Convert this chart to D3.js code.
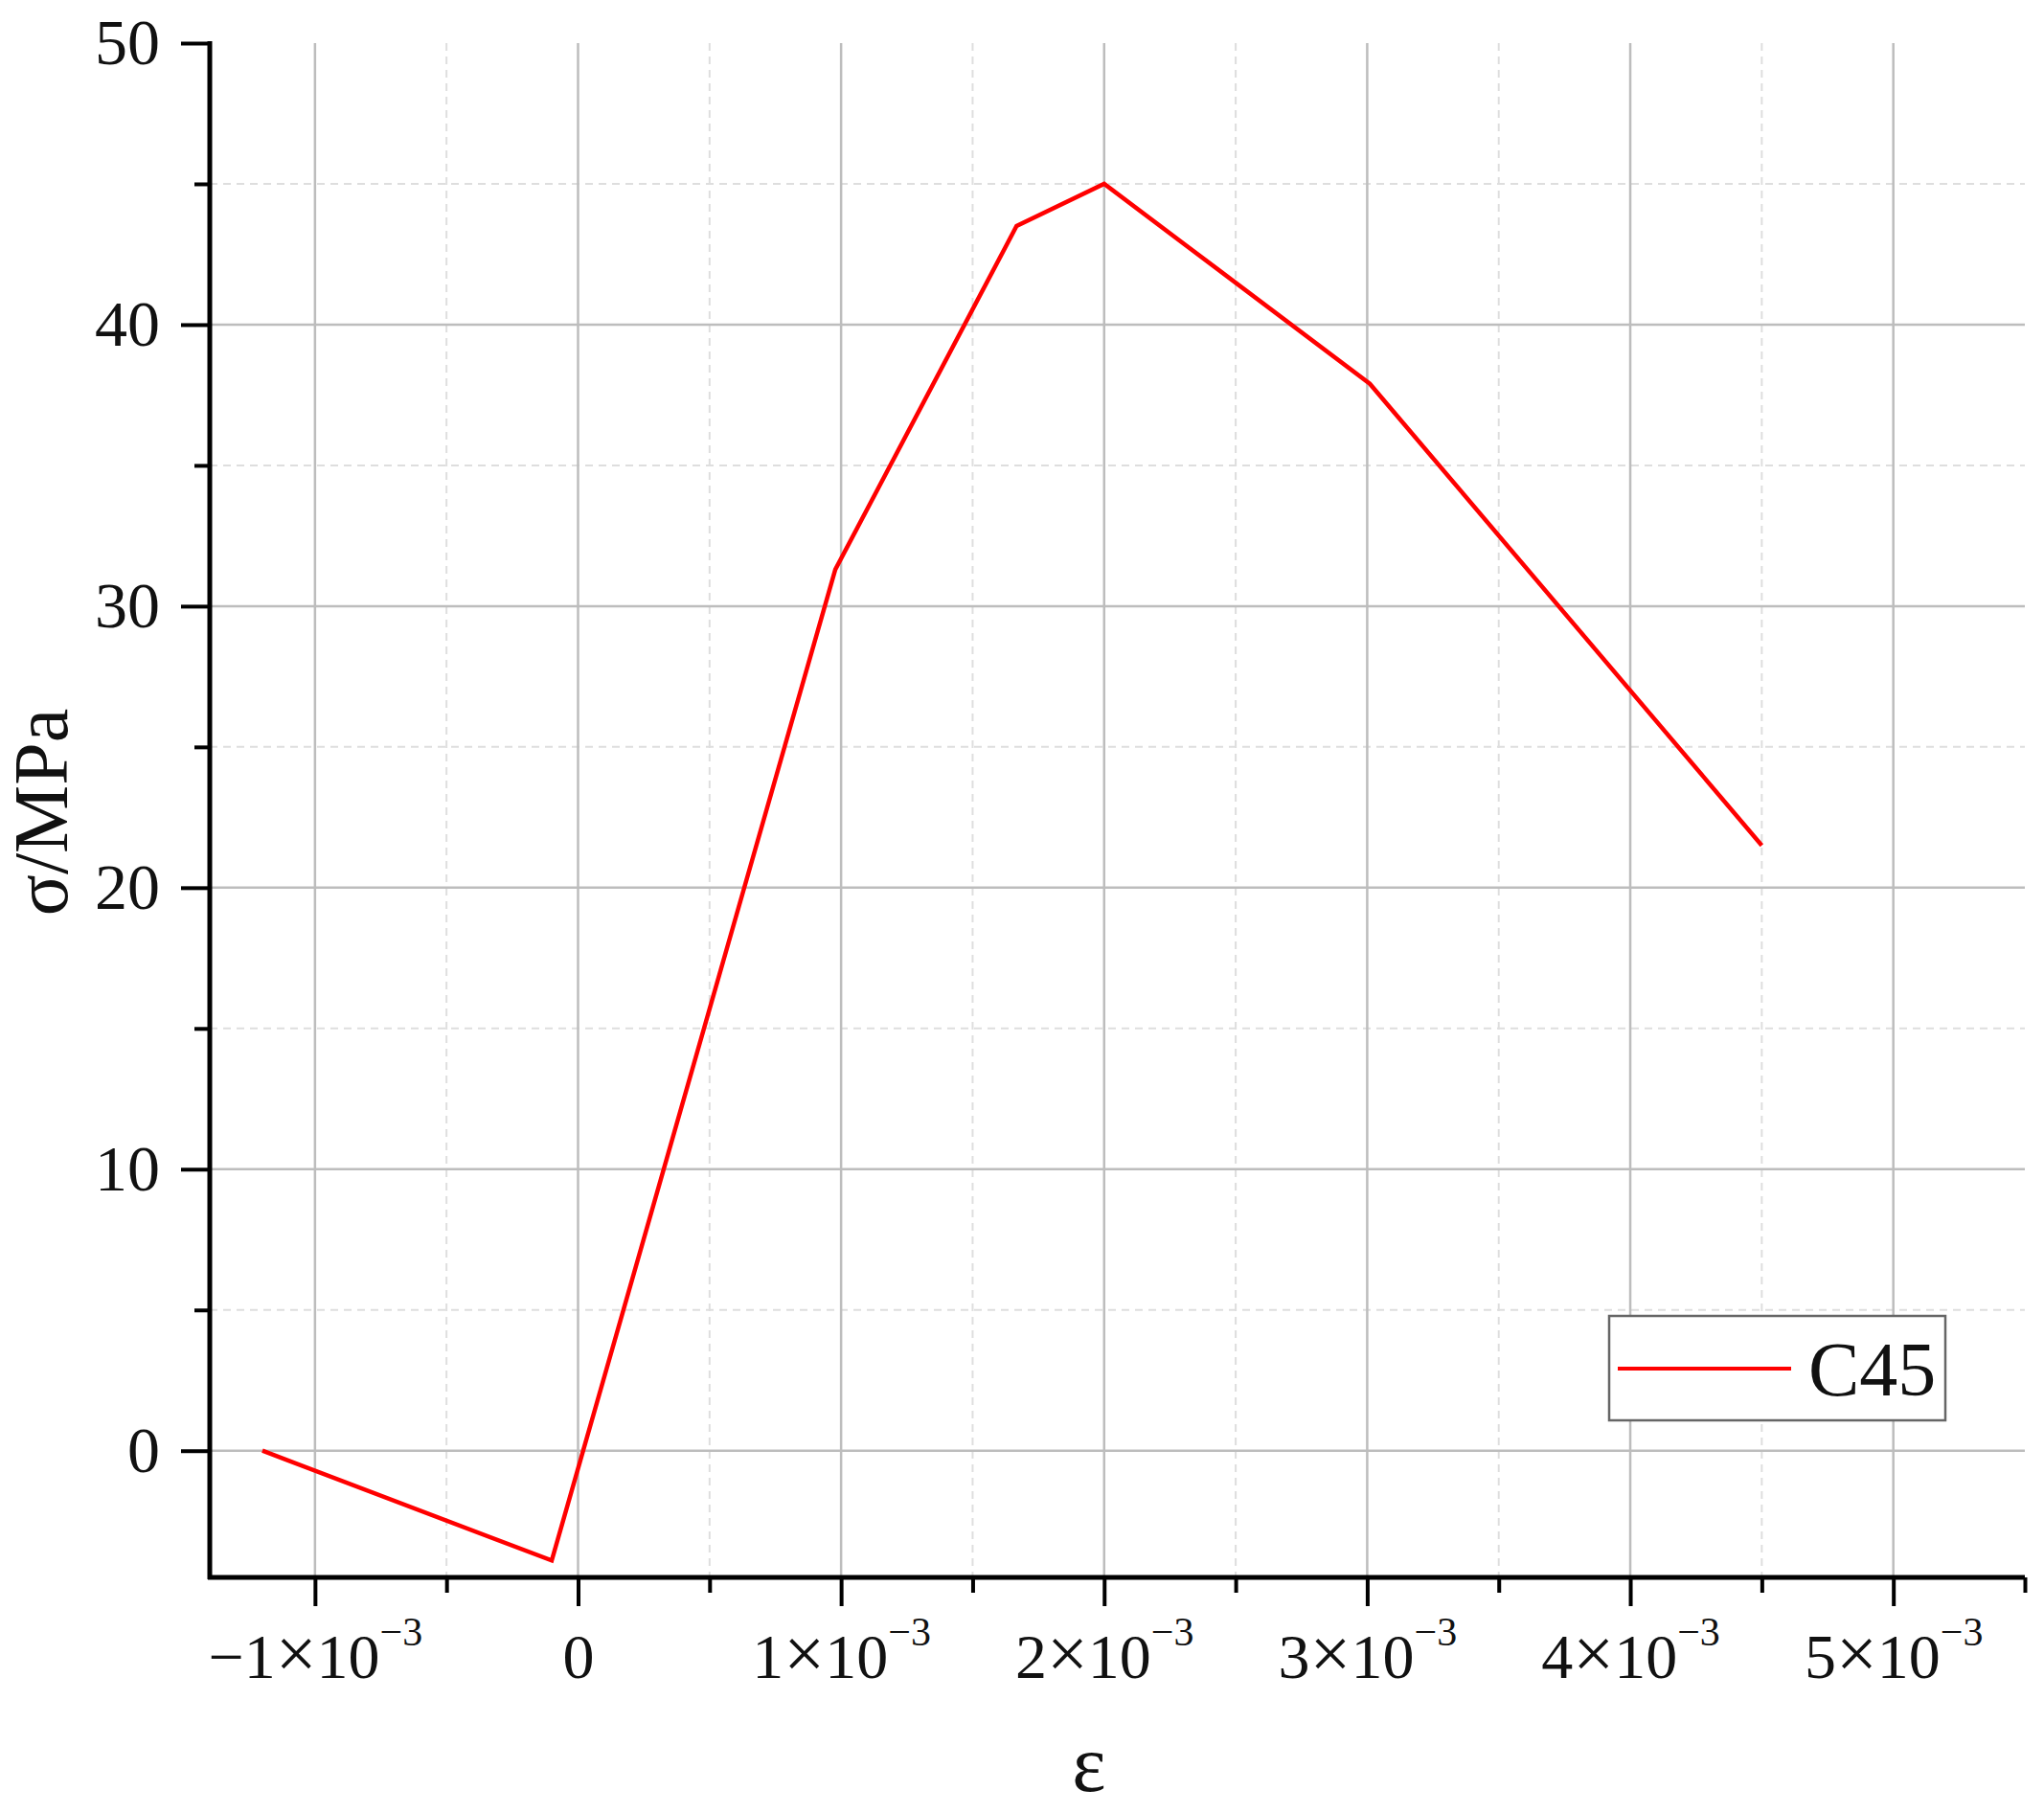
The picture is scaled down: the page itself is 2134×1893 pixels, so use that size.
<!DOCTYPE html>
<html>
<head>
<meta charset="utf-8">
<script src="https://cdn.jsdelivr.net/npm/d3@7"></script>
<style>
  html, body { margin: 0; padding: 0; background: #fff; }
  svg { display: block; }
  text { font-family: "Liberation Serif", "DejaVu Serif", serif; fill: #111; }
</style>
</head>
<body>
<svg id="chart" width="2134" height="1893"></svg>
<script>
// ---- data ----
const seriesName = "C45";
const strain = [-1.2e-3, -0.1e-3, 0.978e-3, 1.667e-3, 2.0e-3, 3.01e-3, 4.5e-3];
const stress = [0, -3.9, 31.3, 43.5, 45.0, 37.9, 21.5];
const xMajorTicks = [-1e-3, 0, 1e-3, 2e-3, 3e-3, 4e-3, 5e-3];
const xMinorTicks = [-0.5e-3, 0.5e-3, 1.5e-3, 2.5e-3, 3.5e-3, 4.5e-3, 5.5e-3];
const yMajorTicks = [0, 10, 20, 30, 40, 50];
const yMinorTicks = [5, 15, 25, 35, 45];
const xLabel = "ε";
const yLabel = "σ/MPa";

// ---- layout ----
const pL = 219, pR = 2114, pT = 45, pB = 1647;
const svg = d3.select("#chart");

const x = d3.scaleLinear().domain([-1.4e-3, 5.5e-3]).range([pL, pR]);
const y = d3.scaleLinear().domain([-4.5, 50]).range([pB, pT]);

// ---- grid ----
const grid = svg.append("g");
grid.selectAll(".vminor").data(xMinorTicks.filter(d => d < 5.5e-3)).join("line")
  .attr("x1", d => x(d)).attr("x2", d => x(d)).attr("y1", pT).attr("y2", pB)
  .attr("stroke", "#dedede").attr("stroke-width", 2).attr("stroke-dasharray", "8,6");
grid.selectAll(".hminor").data(yMinorTicks).join("line")
  .attr("x1", pL).attr("x2", pR).attr("y1", d => y(d)).attr("y2", d => y(d))
  .attr("stroke", "#dedede").attr("stroke-width", 2).attr("stroke-dasharray", "8,6");
grid.selectAll(".vmajor").data(xMajorTicks).join("line")
  .attr("x1", d => x(d)).attr("x2", d => x(d)).attr("y1", pT).attr("y2", pB)
  .attr("stroke", "#bdbdbd").attr("stroke-width", 2.5);
grid.selectAll(".hmajor").data(yMajorTicks.filter(d => d < 50)).join("line")
  .attr("x1", pL).attr("x2", pR).attr("y1", d => y(d)).attr("y2", d => y(d))
  .attr("stroke", "#bdbdbd").attr("stroke-width", 2.5);

// ---- axes ----
const xAxisMinor = d3.axisBottom(x).tickValues(xMinorTicks).tickSize(16).tickFormat("");
const xAxis = d3.axisBottom(x).tickValues(xMajorTicks).tickSize(30).tickPadding(28)
  .tickFormat(d => d);
const yAxisMinor = d3.axisLeft(y).tickValues(yMinorTicks).tickSize(16).tickFormat("");
const yAxis = d3.axisLeft(y).tickValues(yMajorTicks).tickSize(30).tickPadding(22)
  .tickFormat(d => d);

function styleAxis(g) {
  g.select(".domain").remove();
  g.selectAll(".tick line").attr("stroke", "#000").attr("stroke-width", 4);
}

const gxm = svg.append("g").attr("transform", `translate(0,${pB})`).call(xAxisMinor);
styleAxis(gxm);
const gx = svg.append("g").attr("transform", `translate(0,${pB})`).call(xAxis);
styleAxis(gx);
gx.selectAll(".tick text")
  .attr("font-size", 66).attr("font-family", "Liberation Serif").attr("fill", "#111")
  .each(function(d) {
    const t = d3.select(this);
    t.text(null);
    const n = Math.round(d * 1000);
    if (n === 0) { t.append("tspan").text("0"); return; }
    t.append("tspan").text((n < 0 ? "−" : "") + Math.abs(n));
    t.append("tspan").attr("font-size", 76).text("×");
    t.append("tspan").text("10");
    t.append("tspan").attr("font-size", 42).attr("dy", "-0.8em").text("−3");
  });

const gym = svg.append("g").attr("transform", `translate(${pL},0)`).call(yAxisMinor);
styleAxis(gym);
const gy = svg.append("g").attr("transform", `translate(${pL},0)`).call(yAxis);
styleAxis(gy);
gy.selectAll(".tick text")
  .attr("font-size", 68).attr("font-family", "Liberation Serif").attr("fill", "#111");

// axis lines (left & bottom)
svg.append("line").attr("x1", pL).attr("x2", pL).attr("y1", pT - 2).attr("y2", pB + 2)
  .attr("stroke", "#000").attr("stroke-width", 5);
svg.append("line").attr("x1", pL - 2).attr("x2", pR).attr("y1", pB).attr("y2", pB)
  .attr("stroke", "#000").attr("stroke-width", 5);

// ---- series ----
const pts = strain.map((s, i) => [s, stress[i]]);
const line = d3.line().x(d => x(d[0])).y(d => y(d[1]));
svg.append("path").datum(pts).attr("d", line)
  .attr("fill", "none").attr("stroke", "#ff0000").attr("stroke-width", 4.5)
  .attr("stroke-linejoin", "miter");

// ---- labels ----
svg.append("text").attr("x", 1137).attr("y", 1870).attr("text-anchor", "middle")
  .attr("font-size", 84).text(xLabel);
svg.append("text").attr("transform", `translate(70,848) rotate(-90)`)
  .attr("text-anchor", "middle").attr("font-size", 80).text(yLabel);

// ---- legend ----
const lg = svg.append("g");
lg.append("rect").attr("x", 1680).attr("y", 1374).attr("width", 351).attr("height", 109)
  .attr("fill", "#fff").attr("stroke", "#666").attr("stroke-width", 2.5);
lg.append("line").attr("x1", 1689).attr("x2", 1870).attr("y1", 1429).attr("y2", 1429)
  .attr("stroke", "#ff0000").attr("stroke-width", 4);
lg.append("text").attr("x", 1888).attr("y", 1457).attr("font-size", 80).text(seriesName);
</script>
</body>
</html>
